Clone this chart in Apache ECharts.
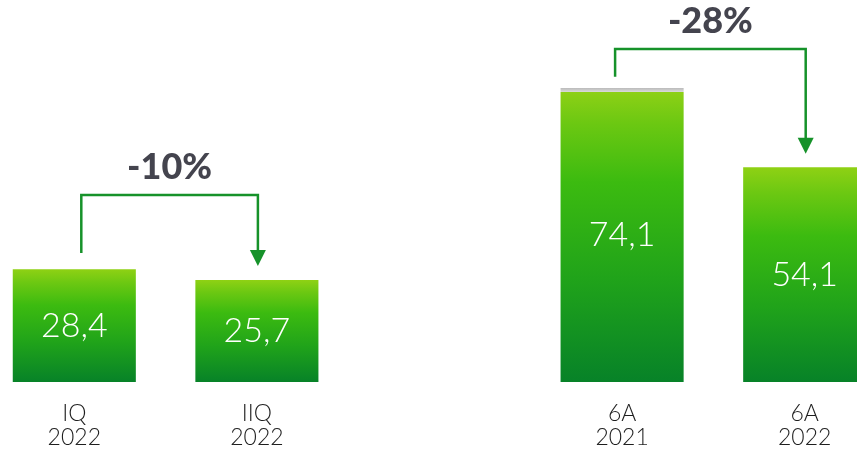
<!DOCTYPE html>
<html>
<head>
<meta charset="utf-8">
<script src="https://cdn.jsdelivr.net/npm/echarts@6/dist/echarts.min.js"></script>
<style>
html,body{margin:0;padding:0;background:#fff;}
#c{width:857px;height:452px;}
</style>
</head>
<body>
<div id="c"></div>
<script>
// Data
var categories = ['IQ\n2022', 'IIQ\n2022', '', '6A\n2021', '6A\n2022'];
var values = [28.4, 25.7, null, 74.1, 54.1];
var valueLabels = ['28,4', '25,7', '', '74,1', '54,1'];
// brackets: from category, to category, start value, arrow tip value, top level, label
var bracketFrom = [0, 3];
var bracketTo = [1, 4];
var bracketStart = [32.5, 76.9];
var bracketTip = [29.2, 57.5];
var bracketTop = [47.1, 83.9];
var bracketLabels = ['-10%', '-28%'];

var startShift = [7, -7];

function barGradient(withCap) {
  var stops = [];
  if (withCap) {
    stops.push({offset: 0, color: '#bababa'});
    stops.push({offset: 0.013, color: '#d8d8d8'});
    stops.push({offset: 0.0135, color: '#8dd016'});
  } else {
    stops.push({offset: 0, color: '#8fd114'});
  }
  stops.push({offset: 0.12, color: '#6cc812'});
  stops.push({offset: 0.32, color: '#3cbb10'});
  stops.push({offset: 0.65, color: '#20a31a'});
  stops.push({offset: 1, color: '#078228'});
  return new echarts.graphic.LinearGradient(0, 0, 0, 1, stops);
}

var barData = values.map(function (v, i) {
  if (v === null) return null;
  return {
    value: v,
    itemStyle: {color: barGradient(i === 3)},
    label: {formatter: valueLabels[i]}
  };
});

var bracketData = bracketFrom.map(function (f, i) {
  return [f, bracketTo[i], bracketStart[i], bracketTip[i], bracketTop[i], i];
});

var chart = echarts.init(document.getElementById('c'), null, {renderer: 'canvas'});
chart.setOption({
  animation: false,
  backgroundColor: '#ffffff',
  grid: {left: -17, right: -39, top: 5, bottom: 70, containLabel: false, outerBoundsMode: 'none'},
  xAxis: {
    type: 'category',
    data: categories,
    axisLine: {show: false},
    axisTick: {show: false},
    axisLabel: {
      interval: 0,
      margin: 20,
      color: '#1e1e1e',
      fontFamily: 'Lato',
      fontWeight: 300,
      fontSize: 23,
      lineHeight: 24
    }
  },
  yAxis: {
    type: 'value',
    min: 0,
    max: 95,
    show: false,
    splitLine: {show: false}
  },
  series: [
    {
      type: 'bar',
      data: barData,
      barWidth: '67.4%',
      label: {
        show: true,
        position: 'inside',
        color: '#ffffff',
        fontFamily: 'Lato',
        fontWeight: 300,
        fontSize: 34
      }
    },
    {
      type: 'custom',
      coordinateSystem: 'cartesian2d',
      data: bracketData,
      clip: false,
      z: 5,
      renderItem: function (params, api) {
        var i = api.value(5);
        var pStart = api.coord([api.value(0), api.value(2)]);
        var pTop1 = api.coord([api.value(0), api.value(4)]);
        var pTop2 = api.coord([api.value(1), api.value(4)]);
        var pTip = api.coord([api.value(1), api.value(3)]);
        var x1 = pStart[0] + startShift[i];
        var x2 = pTop2[0] + 1;
        var yTop = pTop1[1];
        var color = '#16922a';
        var ah = 16, aw = 8;
        return {
          type: 'group',
          children: [
            {
              type: 'polyline',
              shape: {points: [[x1, pStart[1]], [x1, yTop], [x2, yTop], [x2, pTip[1] - ah + 1]]},
              style: {stroke: color, lineWidth: 2.5, fill: null}
            },
            {
              type: 'polygon',
              shape: {points: [[x2 - aw, pTip[1] - ah], [x2 + aw, pTip[1] - ah], [x2, pTip[1]]]},
              style: {fill: color}
            },
            {
              type: 'text',
              x: (x1 + x2) / 2,
              y: yTop - 28,
              style: {
                text: bracketLabels[i],
                fill: '#44444e',
                font: '900 36px "Lato", sans-serif',
                align: 'center',
                verticalAlign: 'middle'
              }
            }
          ]
        };
      }
    }
  ]
});
</script>
</body>
</html>
